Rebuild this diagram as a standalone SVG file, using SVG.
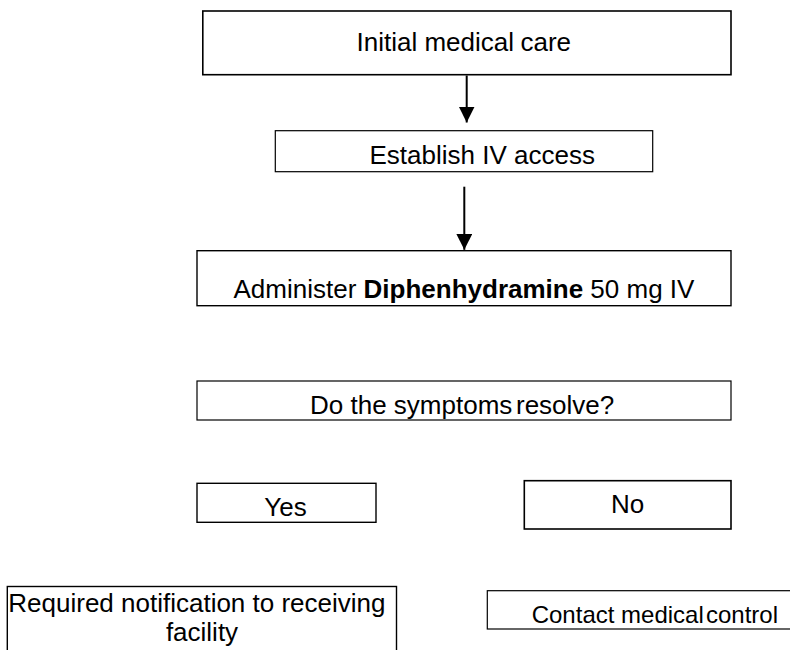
<svg xmlns="http://www.w3.org/2000/svg" width="790" height="650" viewBox="0 0 790 650">
<defs>
<style>
.box{fill:#fff;stroke:#000}
.t{font-family:"Liberation Sans",Arial,sans-serif;font-size:26px;fill:#000}
.b{font-weight:bold}
.conn{stroke:#000;stroke-width:2;fill:none}
</style>
<marker id="ah" markerUnits="userSpaceOnUse" markerWidth="16" markerHeight="16" refX="15" refY="7.5" orient="auto" viewBox="0 0 15 15">
<path d="M0,0 L15,7.5 L0,15 z" fill="#000"/>
</marker>
</defs>
<rect width="790" height="650" fill="#fff"/>
<g id="connectors">
<line class="conn" x1="466.7" y1="75.5" x2="466.7" y2="122.5" marker-end="url(#ah)"/>
<line class="conn" x1="464.3" y1="186.7" x2="464.3" y2="249.8" marker-end="url(#ah)"/>
</g>
<g id="n1">
<rect class="box" x="202.8" y="11" width="528.2" height="63.7" stroke-width="1.6"/>
<text class="t" y="50.7"><tspan x="356.5">Initial medical</tspan><tspan x="520.5">care</tspan></text>
</g>
<g id="n2">
<rect class="box" x="275.3" y="130.7" width="377.4" height="41" stroke-width="1.2"/>
<text class="t" x="369.5" y="163.5">Establish IV access</text>
</g>
<g id="n3">
<rect class="box" x="197" y="250.7" width="534" height="55" stroke-width="1.4"/>
<text class="t" x="233.5" y="298.3">Administer <tspan class="b">Diphenhydramine</tspan> 50 mg IV</text>
</g>
<g id="n4">
<rect class="box" x="197" y="381" width="534" height="39" stroke-width="1.2"/>
<text class="t" y="413.5"><tspan x="310">Do the symptoms</tspan><tspan x="516">resolve?</tspan></text>
</g>
<g id="n5">
<rect class="box" x="197" y="483.3" width="179" height="39" stroke-width="1.4"/>
<text class="t" x="264.3" y="515.5">Yes</text>
</g>
<g id="n6">
<rect class="box" x="524.3" y="480.7" width="206.7" height="48.3" stroke-width="1.6"/>
<text class="t" x="611" y="512.5">No</text>
</g>
<g id="n7">
<rect class="box" x="7.3" y="586.5" width="389.2" height="80" stroke-width="1.4"/>
<text class="t" x="8.3" y="611.5">Required notification to receiving</text>
<text class="t" x="202" y="641" text-anchor="middle">facility</text>
</g>
<g id="n8">
<rect class="box" x="487.3" y="590.7" width="310" height="38.3" stroke-width="1.2"/>
<text class="t" y="622.5" style="font-size:24px"><tspan x="531.7">Contact medical</tspan><tspan x="706">control</tspan></text>
</g>
</svg>
